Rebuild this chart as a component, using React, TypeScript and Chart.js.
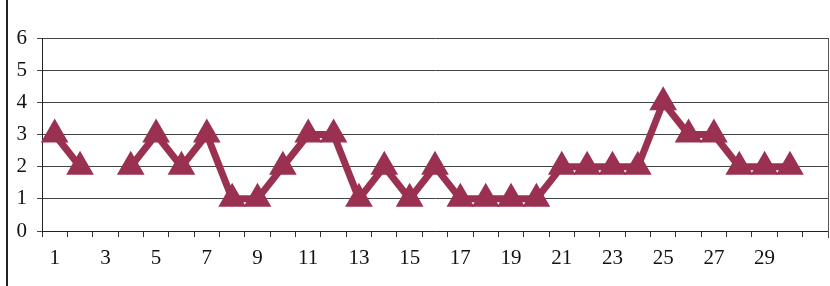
import React, { useEffect, useRef } from "react";
import { Chart, registerables } from "chart.js";

Chart.register(...registerables);

const categories: string[] = [
  "1","2","3","4","5","6","7","8","9","10",
  "11","12","13","14","15","16","17","18","19","20",
  "21","22","23","24","25","26","27","28","29","30","",
];
const values: (number | null)[] = [
  3, 2, null, 2, 3, 2, 3, 1, 1, 2,
  3, 3, 1, 2, 1, 2, 1, 1, 1, 1,
  2, 2, 2, 2, 4, 3, 3, 2, 2, 2, null,
];
const yTicks: number[] = [0, 1, 2, 3, 4, 5, 6];

const COLOR = "#9a3150";

export default function App() {
  const ref = useRef<HTMLCanvasElement | null>(null);
  useEffect(() => {
    if (!ref.current) return;
    const chart = new Chart(ref.current, {
      type: "line",
      data: {
        labels: categories,
        datasets: [
          {
            data: values,
            borderColor: COLOR,
            backgroundColor: COLOR,
            borderWidth: 7,
            pointStyle: "triangle",
            pointRadius: 13,
            pointBorderWidth: 3,
            pointBackgroundColor: COLOR,
            pointBorderColor: COLOR,
            spanGaps: false,
            tension: 0,
          },
        ],
      },
      options: {
        animation: false,
        responsive: false,
        maintainAspectRatio: false,
        layout: { padding: { left: 0, right: 0, top: 38, bottom: 0 } },
        plugins: { legend: { display: false }, tooltip: { enabled: false } },
        scales: {
          x: {
            offset: true,
            grid: {
              offset: true,
              drawOnChartArea: false,
              drawTicks: true,
              tickLength: 6,
              color: "#333",
            },
            border: { color: "#222", width: 1 },
            ticks: {
              autoSkip: false,
              maxRotation: 0,
              padding: 9,
              color: "#111",
              font: { family: "'Liberation Serif', serif", size: 21 },
              callback: (_v: any, i: number) => (i % 2 === 0 ? categories[i] : ""),
            },
            afterFit: (s: any) => {
              s.height = 55;
            },
          },
          y: {
            min: 0,
            max: 6,
            afterBuildTicks: (s: any) => {
              s.ticks = yTicks.map((v) => ({ value: v }));
            },
            grid: { color: "#444", lineWidth: 1, tickLength: 5 },
            border: { color: "#222", width: 1 },
            ticks: {
              padding: 10,
              color: "#111",
              font: { family: "'Liberation Serif', serif", size: 21 },
            },
            afterFit: (s: any) => {
              s.width = 42;
            },
          },
        },
      },
    });
    return () => chart.destroy();
  }, []);
  return (
    <div style={{ position: "absolute", left: 0, top: 0, width: 830, height: 286, background: "#fff", overflow: "hidden" }}>
      <div style={{ position: "absolute", left: 6, top: 0, width: 2, height: 286, background: "#222" }} />
      <canvas ref={ref} width={844} height={286} style={{ position: "absolute", left: 0, top: 0 }} />
      <div style={{ position: "absolute", left: 828, top: 38, width: 1, height: 200, background: "#555" }} />
    </div>
  );
}
